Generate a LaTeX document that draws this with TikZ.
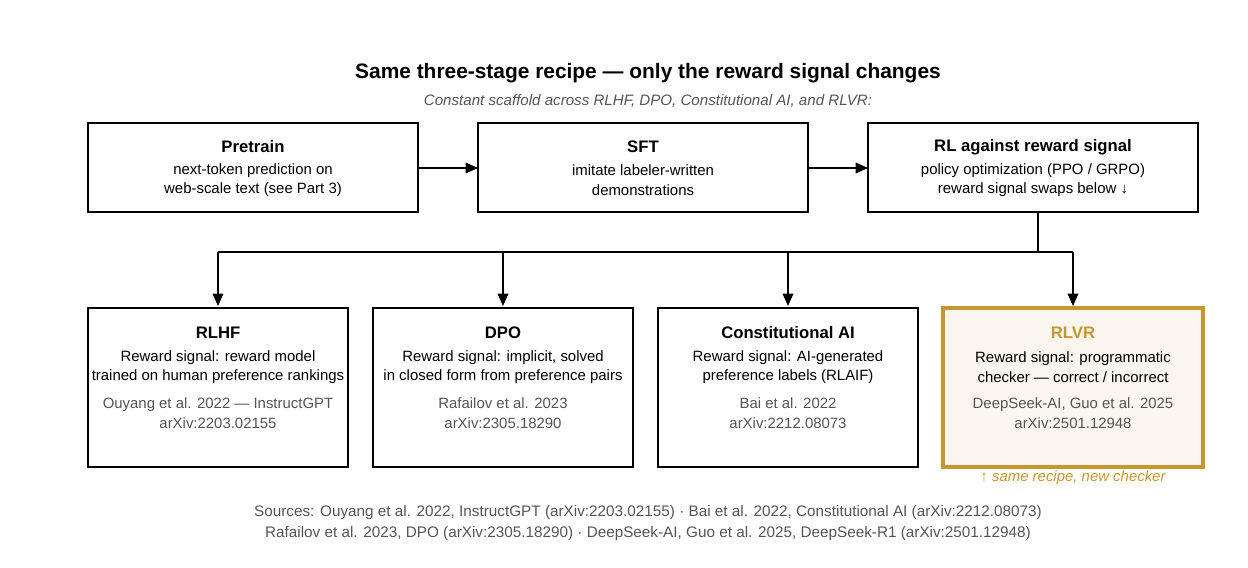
\documentclass[tikz,border=0pt]{standalone}
\usepackage{fontspec}
\setmainfont{Liberation Sans}
\usetikzlibrary{arrows.meta}
\definecolor{gold}{HTML}{C8962E}
\definecolor{goldfill}{HTML}{FAF5EE}
\definecolor{txtgray}{HTML}{555555}
\begin{document}
\begin{tikzpicture}[x=0.02cm,y=-0.02cm,
  box/.style={draw=black,line width=0.9pt,fill=white},
  hd/.style={font=\fontsize{9.5}{11}\selectfont\bfseries,anchor=center},
  bd/.style={font=\fontsize{8.5}{11.2}\selectfont,align=center,anchor=center},
  ref/.style={font=\fontsize{8.5}{11.2}\selectfont,align=center,anchor=center,text=txtgray},
  arr/.style={line width=0.9pt,-{Triangle[length=7pt,width=6pt]}}]
\useasboundingbox (0,0) rectangle (1248,568);
\node[font=\fontsize{11.9}{13}\selectfont\bfseries] (title) at (648,73) {Same three-stage recipe — only the reward signal changes};
\node[font=\fontsize{8.6}{10}\selectfont\itshape,text=txtgray] (sub) at (648,101) {Constant scaffold across RLHF, DPO, Constitutional AI, and RLVR:};
% top row
\draw[box] (88,123) rectangle (418,212);
\draw[box] (478,123) rectangle (808,212);
\draw[box] (868,123) rectangle (1198,212);
\node[hd] (pre) at (253,147) {Pretrain};
\node[bd] at (253,180) {next-token prediction on\\web-scale text (see Part 3)};
\node[hd] (sft) at (643,147) {SFT};
\node[bd] at (643,180) {imitate labeler-written\\demonstrations};
\node[hd] (rl) at (1033,147) {RL against reward signal};
\node[bd] at (1033,180) {policy optimization (PPO / GRPO)\\reward signal swaps below ↓};
\coordinate (preR) at (418,168); \coordinate (sftL) at (478,168);
\coordinate (sftR) at (808,168); \coordinate (rlL) at (868,168);
\draw[arr] (preR) -- (sftL);
\draw[arr] (sftR) -- (rlL);
% bottom boxes
\draw[box] (88,308) rectangle (348,467);
\draw[box] (373,308) rectangle (633,467);
\draw[box] (658,308) rectangle (918,467);
\draw[draw=gold,fill=goldfill,line width=1.8pt] (943,308) rectangle (1203,467);
% connectors
\coordinate (rlB) at (1038,212); \coordinate (j) at (1038,252);
\draw[line width=0.9pt] (rlB) -- (j);
\draw[line width=0.9pt] (218,252) -- (1073,252);
\foreach \x in {218,503,788,1073}{\draw[arr] (\x,252) -- (\x,306);}
% texts
\node[hd] (rlhf) at (218,333) {RLHF};
\node[bd] at (218,367) {Reward signal: reward model\\trained on human preference rankings};
\node[ref] at (218,413) {Ouyang et al. 2022 — InstructGPT\\arXiv:2203.02155};
\node[hd] (dpo) at (503,333) {DPO};
\node[bd] at (503,367) {Reward signal: implicit, solved\\in closed form from preference pairs};
\node[ref] at (503,413) {Rafailov et al. 2023\\arXiv:2305.18290};
\node[hd] (cai) at (788,333) {Constitutional AI};
\node[bd] at (788,367) {Reward signal: AI-generated\\preference labels (RLAIF)};
\node[ref] at (788,413) {Bai et al. 2022\\arXiv:2212.08073};
\node[hd,text=gold] (rlvr) at (1073,333) {RLVR};
\node[bd] at (1073,367) {Reward signal: programmatic\\checker — correct / incorrect};
\node[ref] at (1073,413) {DeepSeek-AI, Guo et al. 2025\\arXiv:2501.12948};
\node[font=\fontsize{8.5}{10}\selectfont\itshape,text=gold] (note) at (1073,478) {↑ same recipe, new checker};
\node[ref,font=\fontsize{8.7}{11.5}\selectfont] (src) at (648,523) {Sources: Ouyang et al. 2022, InstructGPT (arXiv:2203.02155) · Bai et al. 2022, Constitutional AI (arXiv:2212.08073)\\Rafailov et al. 2023, DPO (arXiv:2305.18290) · DeepSeek-AI, Guo et al. 2025, DeepSeek-R1 (arXiv:2501.12948)};
\end{tikzpicture}
\end{document}
